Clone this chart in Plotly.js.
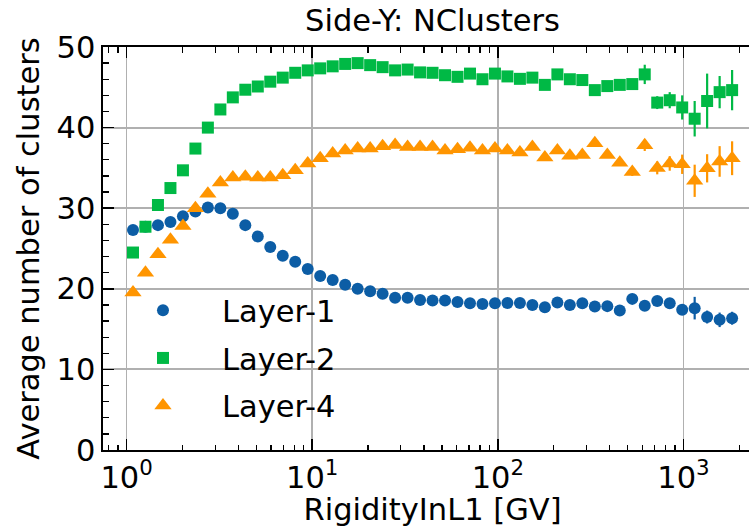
<!DOCTYPE html>
<html>
<head>
<meta charset="utf-8">
<script src="https://cdn.plot.ly/plotly-3.0.1.min.js"></script>
<style>
html, body { margin: 0; padding: 0; background: #fff; overflow: hidden; }
#wrap { width: 749px; height: 527px; overflow: hidden; }
</style>
</head>
<body>
<div id="wrap"><div id="plot"></div></div>
<script>
// Rigidity bin centres [GV]
const rigidity = [1.083, 1.264, 1.476, 1.723, 2.012, 2.349, 2.741, 3.201, 3.736, 4.362,
  5.092, 5.944, 6.939, 8.100, 9.460, 11.04, 12.89, 15.05, 17.57, 20.52,
  23.95, 27.96, 32.65, 38.11, 44.49, 51.94, 60.64, 70.79, 82.64, 96.49,
  112.6, 131.5, 153.5, 179.2, 209.3, 244.3, 285.2, 333.0, 388.8, 453.8,
  529.9, 618.5, 722.2, 843.1, 984.2, 1149, 1341, 1566, 1828];

const layer1 = [27.3, 27.7, 27.9, 28.3, 29.0, 29.6, 30.1, 30.0, 29.3, 27.9,
  26.5, 25.2, 24.1, 23.35, 22.45, 21.6, 21.1, 20.5, 20.0, 19.7,
  19.4, 18.9, 18.9, 18.6, 18.55, 18.55, 18.35, 18.2, 18.1, 18.2,
  18.25, 18.25, 18.0, 17.7, 18.3, 18.0, 18.2, 17.8, 17.85, 17.3,
  18.75, 17.9, 18.5, 18.2, 17.4, 17.6, 16.5, 16.15, 16.35];
const layer1Err = [0.1, 0.1, 0.1, 0.1, 0.1, 0.1, 0.1, 0.1, 0.1, 0.1,
  0.1, 0.1, 0.1, 0.1, 0.1, 0.1, 0.1, 0.1, 0.1, 0.1,
  0.1, 0.1, 0.1, 0.1, 0.1, 0.1, 0.1, 0.1, 0.1, 0.1,
  0.1, 0.1, 0.15, 0.15, 0.15, 0.15, 0.2, 0.2, 0.2, 0.25,
  0.3, 0.3, 0.35, 0.4, 0.5, 1.4, 0.8, 0.9, 0.8];

const layer2 = [24.5, 27.7, 30.4, 32.5, 34.7, 37.4, 40.0, 42.25, 43.75, 44.7,
  45.1, 45.7, 46.2, 46.8, 47.1, 47.35, 47.6, 47.9, 48.0, 47.75,
  47.5, 47.1, 47.2, 46.85, 46.8, 46.5, 46.3, 46.7, 46.0, 46.7,
  46.35, 46.05, 46.2, 45.3, 46.6, 46.0, 45.9, 44.65, 45.15, 45.3,
  45.4, 46.6, 43.1, 43.4, 42.5, 41.1, 43.3, 44.4, 44.65];
const layer2Err = [0.1, 0.1, 0.1, 0.1, 0.1, 0.1, 0.1, 0.1, 0.1, 0.1,
  0.1, 0.1, 0.1, 0.1, 0.1, 0.1, 0.1, 0.1, 0.1, 0.1,
  0.1, 0.1, 0.1, 0.1, 0.1, 0.1, 0.1, 0.1, 0.1, 0.15,
  0.15, 0.2, 0.2, 0.25, 0.25, 0.3, 0.3, 0.4, 0.45, 0.5,
  0.6, 1.2, 0.8, 1.0, 1.5, 2.2, 3.4, 2.0, 2.5];

const layer4 = [19.55, 22.0, 24.3, 26.1, 27.8, 30.0, 31.8, 33.2, 33.8, 33.9,
  33.8, 33.8, 34.1, 34.7, 35.55, 36.2, 36.8, 37.15, 37.4, 37.4,
  37.7, 37.85, 37.6, 37.6, 37.6, 37.15, 37.3, 37.5, 37.15, 37.4,
  37.15, 36.9, 37.6, 36.3, 37.15, 36.5, 36.6, 38.05, 36.6, 35.65,
  34.5, 37.8, 35.0, 35.55, 35.45, 33.4, 34.95, 35.8, 36.2];
const layer4Err = [0.1, 0.1, 0.1, 0.1, 0.1, 0.1, 0.1, 0.1, 0.1, 0.1,
  0.1, 0.1, 0.1, 0.1, 0.1, 0.1, 0.1, 0.1, 0.1, 0.1,
  0.1, 0.1, 0.1, 0.1, 0.1, 0.1, 0.1, 0.1, 0.1, 0.15,
  0.15, 0.2, 0.2, 0.25, 0.25, 0.3, 0.3, 0.35, 0.35, 0.4,
  0.5, 0.7, 0.8, 0.9, 1.2, 2.0, 1.75, 1.9, 2.1];

const seriesNames = ['Layer-1', 'Layer-2', 'Layer-4'];
const xTickVals = [1, 10, 100, 1000];
const xTickText = ['10<sup>0</sup>', '10<sup>1</sup>', '10<sup>2</sup>', '10<sup>3</sup>'];
const xMinorVals = [0.8, 0.9, 2, 3, 4, 5, 6, 7, 8, 9, 20, 30, 40, 50, 60, 70, 80, 90,
  200, 300, 400, 500, 600, 700, 800, 900, 2000];

const colors = ['#0C5DA5', '#00B945', '#FF9500'];
const symbols = ['circle', 'square', 'triangle-up'];
const sizes = [12, 12, 15];
const ys = [layer1, layer2, layer4];
const errs = [layer1Err, layer2Err, layer4Err];

const FONT = 'DejaVu Sans, sans-serif';
const FS = 30.5;

const traces = ys.map((y, i) => ({
  type: 'scatter',
  mode: 'markers',
  name: seriesNames[i],
  legendgroup: 'g' + i,
  x: rigidity,
  y: y,
  error_y: { type: 'data', array: errs[i], visible: true, color: colors[i], thickness: 2.2, width: 0 },
  marker: { color: colors[i], symbol: symbols[i], size: sizes[i], line: { width: 0 } },
  cliponaxis: true
}));

const axisCommon = {
  showline: true, linecolor: '#000', linewidth: 1.6, mirror: 'ticks',
  ticks: 'inside', ticklen: 11, tickwidth: 1.6, tickcolor: '#000',
  showgrid: true, gridcolor: '#b0b0b0', gridwidth: 1.8,
  zeroline: false,
  tickfont: { family: FONT, size: FS, color: '#000' }
};

const layout = {
  width: 765, height: 527,
  margin: { l: 103, r: 3, t: 47, b: 77 },
  paper_bgcolor: '#fff', plot_bgcolor: '#fff',
  font: { family: FONT, size: FS, color: '#000' },
  title: { text: 'Side-Y: NClusters', font: { family: FONT, size: FS, color: '#000' },
    x: 0.5, xref: 'paper', xanchor: 'center', y: 0.962, yref: 'container', yanchor: 'middle' },
  xaxis: Object.assign({}, axisCommon, {
    type: 'log', range: [-0.127, 3.423],
    tickmode: 'array', tickvals: xTickVals, ticktext: xTickText,
    minor: { tickmode: 'array', tickvals: xMinorVals, ticks: 'inside', ticklen: 5.5, tickwidth: 1.3, tickcolor: '#000', showgrid: false },
    title: { text: 'RigidityInL1 [GV]', font: { family: FONT, size: FS, color: '#000' }, standoff: 6 }
  }),
  yaxis: Object.assign({}, axisCommon, {
    range: [0, 50], tickmode: 'linear', tick0: 0, dtick: 10,
    minor: { dtick: 2, ticks: 'inside', ticklen: 5.5, tickwidth: 1.3, tickcolor: '#000', showgrid: false },
    title: { text: 'Average number of clusters', font: { family: FONT, size: FS, color: '#000' }, standoff: 8 }
  }),
  showlegend: true,
  legend: {
    x: 0.0015, y: 0.412, xanchor: 'left', yanchor: 'top',
    bgcolor: 'rgba(0,0,0,0)', borderwidth: 0,
    font: { family: FONT, size: FS, color: '#000' },
    itemwidth: 108, tracegroupgap: 5
  }
};

Plotly.newPlot('plot', traces, layout, { displayModeBar: false, staticPlot: true });
</script>
</body>
</html>
